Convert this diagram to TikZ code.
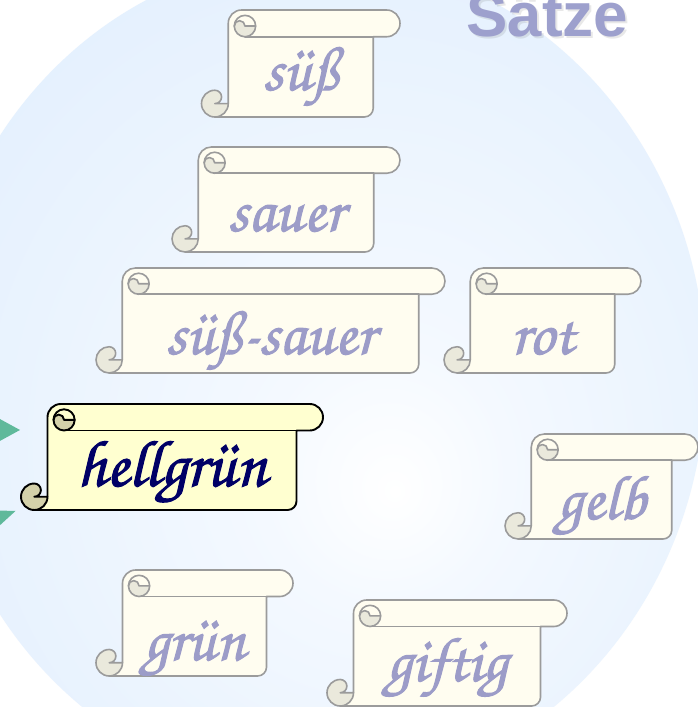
\documentclass[tikz,border=0pt]{standalone}
\usepackage{fontspec}
\newfontfamily\titlefont{Liberation Sans}
\newfontfamily\scrollfont{texgyrechorus-mediumitalic.otf}[FakeBold=1.6]
\definecolor{bgblue}{RGB}{214,232,252}
\definecolor{bgmid}{RGB}{244,249,255}
\definecolor{fadedfillc}{RGB}{255,253,240}
\definecolor{fadedcurlc}{RGB}{234,233,220}
\definecolor{fadedlinec}{RGB}{155,155,155}
\definecolor{fadedtextc}{RGB}{156,156,200}
\definecolor{hellfillc}{RGB}{255,255,208}
\definecolor{hellcurlc}{RGB}{212,209,170}
\definecolor{helltextc}{RGB}{0,0,102}
\definecolor{titlec}{RGB}{157,160,205}
\definecolor{tealc}{RGB}{95,185,155}
\pgfdeclareradialshading{bgshade}{\pgfpoint{5bp}{-7bp}}{color(0bp)=(white); color(8bp)=(bgmid); color(50bp)=(bgblue)}
\tikzset{
  fadedfill/.style={fill=fadedfillc},
  fadedcurl/.style={fill=fadedcurlc},
  fadedline/.style={draw=fadedlinec, line width=1.6pt, line join=round, line cap=round},
  fadedtext/.style={text=fadedtextc, font=\scrollfont\fontsize{63}{70}\selectfont, inner sep=0pt},
  hellfill/.style={fill=hellfillc},
  hellcurl/.style={fill=hellcurlc},
  hellline/.style={draw=black, line width=1.9pt, line join=round, line cap=round},
  helltext/.style={text=helltextc, font=\scrollfont\fontsize{66}{72}\selectfont, inner sep=0pt},
  titletext/.style={text=titlec, font=\titlefont\bfseries\fontsize{62}{70}\selectfont, inner sep=0pt},
  arrowtri/.style={fill=tealc},
}
% #1 name, #2 L, #3 T, #4 R, #5 B (image px, y down), #6 style prefix, #7 text, #8 baseline y
\newcommand\drawscroll[8]{%
  \pgfmathsetmacro\scL{#2}%
  \pgfmathsetmacro\scR{#4}%
  \pgfmathsetmacro\scYt{707-#3}%
  \pgfmathsetmacro\scYb{707-#5}%
  \pgfmathsetmacro\scc{0.25*min(#4-#2,#5-#3)}%
  \pgfmathsetmacro\scxb{\scL+\scc}%
  \pgfmathsetmacro\scxr{\scR-\scc}%
  \pgfmathsetmacro\sch{\scc/2}%
  \pgfmathsetmacro\scq{\scc/4}%
  \pgfmathsetmacro\scrr{\scc/3}%
  \pgfmathsetmacro\sccx{\scL+\sch}%
  \pgfmathsetmacro\sccy{\scYb+\sch}%
  \pgfmathsetmacro\sclx{\scxb+0.625*\scc}%
  \pgfmathsetmacro\scly{\scYt-0.6*\scc}%
  \pgfmathsetmacro\sclr{0.4*\scc}%
  \pgfmathsetmacro\sclh{0.2*\scc}%
  \path[#6fill] (\scxb,\sccy) -- (\scxb,\scYt-\sch)
     arc[start angle=180,end angle=90,radius=\sch] -- (\scR-\sch,\scYt)
     arc[start angle=90,end angle=-90,radius=\sch] -- (\scxr,\scYt-\scc)
     -- (\scxr,\scYb+\scrr) arc[start angle=0,end angle=-90,radius=\scrr]
     -- (\sccx,\scYb) arc[start angle=-90,end angle=-270,radius=\sch]
     arc[start angle=90,end angle=-90,radius=\scq] -- cycle;
  \path[#6curl] (\scxb,\sccy) arc[start angle=0,end angle=-270,radius=\sch]
     arc[start angle=90,end angle=-90,radius=\scq] -- cycle;
  \path[#6curl] (\sclx+\sclr,\scly) -- (\sclx,\scly)
     arc[start angle=0,end angle=180,radius=\sclh]
     arc[start angle=180,end angle=360,radius=\sclr] -- cycle;
  \draw[#6line] (\scxb,\sccy) -- (\scxb,\scYt-\sch)
     arc[start angle=180,end angle=90,radius=\sch] -- (\scR-\sch,\scYt)
     arc[start angle=90,end angle=-90,radius=\sch] -- (\scxr,\scYt-\scc)
     -- (\scxr,\scYb+\scrr) arc[start angle=0,end angle=-90,radius=\scrr]
     -- (\sccx,\scYb) arc[start angle=-90,end angle=-270,radius=\sch]
     arc[start angle=90,end angle=-90,radius=\scq] -- cycle;
  \draw[#6line] (\sccx,\scYb) arc[start angle=-90,end angle=0,radius=\sch];
  \draw[#6line] (\sclx,\scly) circle[radius=\sclr];
  \draw[#6line] (\sclx+\sclr,\scly) -- (\sclx,\scly) arc[start angle=0,end angle=180,radius=\sclh];
  \draw[#6line] (\sclx,\scYt-\scc) -- (\scxr,\scYt-\scc);
  \node[#6text, anchor=base] (#1) at ({(\scxb+\scxr)/2},{707-#8}) {#7};
}
\begin{document}
\begin{tikzpicture}[x=1pt,y=1pt]
\useasboundingbox (0,0) rectangle (698,707);
\fill[white] (0,0) rectangle (698,707);
\begin{scope}
\clip (0,0) rectangle (698,707);
\shade[shading=bgshade] (318,332) ellipse[x radius=388, y radius=418];
% title with soft shadow
\node[titletext, text=black!60, opacity=0.15, anchor=base] (titleshadow) at (549.5,707-39) {Sätze};
\node[titletext, anchor=base] (title) at (547.5,707-37) {Sätze};
% arrowheads entering from the left
\fill[arrowtri] (-2,707-418) -- (20,707-430) -- (-2,707-442) -- cycle;
\fill[arrowtri] (-2,707-510.5) -- (15.5,707-511) -- (-2,707-527) -- cycle;
% scrolls
\drawscroll{suess}{201.5}{10}{400}{117}{faded}{süß}{90}
\drawscroll{sauer}{172}{147}{400}{252}{faded}{sauer}{231}
\drawscroll{suesssauer}{96}{268}{445}{373}{faded}{süß-sauer}{354}
\drawscroll{rot}{444}{268}{641}{373}{faded}{rot}{354}
\drawscroll{gelb}{505}{434}{698}{539}{faded}{gelb}{519}
\drawscroll{gruen}{96}{570}{293}{676}{faded}{grün}{660}
\drawscroll{giftig}{327}{600}{567}{706}{faded}{giftig}{681}
\drawscroll{hellgruen}{21}{404}{323}{510}{hell}{hellgrün}{486}
\end{scope}
\end{tikzpicture}
\end{document}
